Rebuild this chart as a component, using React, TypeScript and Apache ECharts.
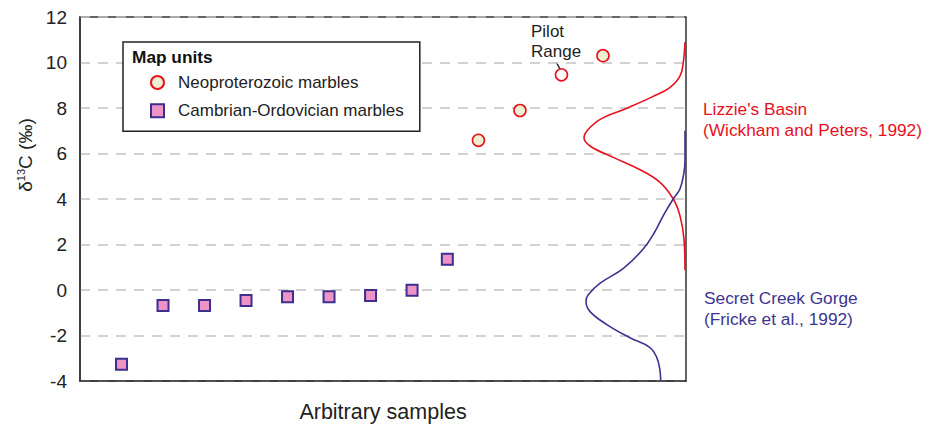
import React, { useEffect, useRef } from "react";
import * as echarts from "echarts";

// Sample positions (arbitrary) and δ13C values
const cambrianX = [1, 2, 3, 4, 5, 6, 7, 8, 8.85];
const cambrianY = [-3.26, -0.68, -0.68, -0.46, -0.3, -0.3, -0.24, -0.01, 1.35];
const neoX = [9.6, 10.6, 11.6, 12.6];
const neoY = [6.58, 7.89, 9.46, 10.3];
const pilotRangeIndex = 2;

// Distribution curves: δ13C value and relative density
const lizzieValues = [10.9, 10.0, 9.4, 8.9, 8.5, 8.0, 7.5, 7.0, 6.7, 6.33, 5.83, 5.3, 4.74, 4.0, 3.27, 2.25, 0.87];
const lizzieDensity = [0.01, 0.027, 0.06, 0.16, 0.33, 0.58, 0.85, 0.98, 1.01, 0.95, 0.72, 0.46, 0.26, 0.126, 0.06, 0.02, 0.01];
const secretValues = [7.0, 5.75, 5.17, 4.44, 4.0, 3.27, 2.55, 1.82, 0.95, 0.3, -0.22, -0.51, -0.95, -1.53, -2.11, -2.52, -2.96, -3.47, -4.0];
const secretDensity = [0.01, 0.01, 0.02, 0.06, 0.127, 0.225, 0.31, 0.42, 0.62, 0.85, 0.97, 0.99, 0.95, 0.78, 0.55, 0.36, 0.29, 0.26, 0.25];

const FONT = 'Arial, "Liberation Sans", Helvetica, sans-serif';
const RED = "#e8111d";
const BLUE = "#3c3590";

export default function App() {
  const ref = useRef<HTMLDivElement>(null);

  useEffect(() => {
    if (!ref.current) return;
    const chart = echarts.init(ref.current, undefined, { renderer: "svg" });

    const neoData = neoX.map((x, i) =>
      i === pilotRangeIndex
        ? { value: [x, neoY[i]], itemStyle: { color: "#ffffff" } }
        : { value: [x, neoY[i]] }
    );
    const camData = cambrianX.map((x, i) => [x, cambrianY[i]]);
    const lizzieData = lizzieValues.map((v, i) => [lizzieDensity[i], v]);
    const secretData = secretValues.map((v, i) => [secretDensity[i], v]);

    chart.setOption({
      animation: false,
      textStyle: { fontFamily: FONT },
      grid: {
        left: 80,
        top: 17,
        width: 606,
        height: 366,
        show: true,
        borderColor: "#333",
        borderWidth: 1.5,
        backgroundColor: "transparent",
      },
      title: {
        text: "Map units",
        left: 132,
        top: 48,
        padding: 0,
        textStyle: { fontFamily: FONT, fontSize: 17.3, fontWeight: "bold", color: "#111" },
      },
      legend: {
        orient: "vertical",
        left: 123,
        top: 42,
        padding: [32, 16, 12, 27],
        itemGap: 11.3,
        itemWidth: 13,
        itemHeight: 13,
        backgroundColor: "#fff",
        borderColor: "#222",
        borderWidth: 1.5,
        textStyle: { fontFamily: FONT, fontSize: 17, color: "#222", padding: [0, 0, 0, 9] },
        data: ["Neoproterozoic marbles", "Cambrian-Ordovician marbles"],
      },
      xAxis: [
        {
          type: "value",
          min: 0,
          max: 14.6,
          name: "Arbitrary samples",
          nameLocation: "middle",
          nameGap: 20,
          nameTextStyle: { fontFamily: FONT, fontSize: 21.5, color: "#222" },
          axisLine: { show: true, onZero: false, lineStyle: { color: "#333", width: 1.5 } },
          axisTick: { show: false },
          axisLabel: { show: false },
          splitLine: { show: false },
        },
        {
          type: "value",
          min: 0,
          max: 6,
          inverse: true,
          show: false,
          position: "top",
          axisLine: { onZero: false },
          splitLine: { show: false },
        },
      ],
      yAxis: {
        type: "value",
        min: -4,
        max: 12,
        interval: 2,
        name: "{a|δ}{s|13}{a|C (‰)}",
        nameLocation: "middle",
        nameGap: 44,
        nameTextStyle: {
          fontFamily: FONT,
          fontSize: 19,
          color: "#222",
          padding: [0, 0, 0, 88],
          rich: {
            a: { fontFamily: FONT, fontSize: 19, color: "#222" },
            s: { fontFamily: FONT, fontSize: 11, color: "#222", verticalAlign: "top", padding: [0, 0, 8, 0] },
          },
        },
        axisLine: { show: true, onZero: false, lineStyle: { color: "#333", width: 1.5 } },
        axisTick: { show: false },
        axisLabel: { fontFamily: FONT, fontSize: 19, color: "#222", margin: 13 },
        splitLine: { show: true, lineStyle: { color: "#c4c4c4", width: 1.5, type: [10, 8] } },
      },
      graphic: [
        {
          type: "text",
          left: 531,
          top: 21,
          style: { text: "Pilot\nRange", font: `17px ${FONT}`, fill: "#222", lineHeight: 20 },
        },
        {
          type: "line",
          shape: { x1: 556.5, y1: 62.5, x2: 560.5, y2: 70 },
          style: { stroke: "#222", lineWidth: 1.5 },
        },
        {
          type: "text",
          left: 703,
          top: 98,
          style: { text: "Lizzie's Basin\n(Wickham and Peters, 1992)", font: `17.3px ${FONT}`, fill: RED, lineHeight: 21 },
        },
        {
          type: "text",
          left: 704,
          top: 287,
          style: { text: "Secret Creek Gorge\n(Fricke et al., 1992)", font: `17.3px ${FONT}`, fill: BLUE, lineHeight: 21 },
        },
      ],
      series: [
        {
          name: "Lizzie's Basin",
          type: "line",
          xAxisIndex: 1,
          data: lizzieData,
          smooth: 0.4,
          symbol: "none",
          lineStyle: { color: RED, width: 1.6 },
          z: 2,
        },
        {
          name: "Secret Creek Gorge",
          type: "line",
          xAxisIndex: 1,
          data: secretData,
          smooth: 0.4,
          symbol: "none",
          lineStyle: { color: BLUE, width: 1.6 },
          z: 2,
        },
        {
          name: "Neoproterozoic marbles",
          type: "scatter",
          data: neoData,
          symbol: "circle",
          symbolSize: 12,
          itemStyle: { color: "#ebf0d2", borderColor: RED, borderWidth: 1.6, opacity: 1 },
          z: 3,
        },
        {
          name: "Cambrian-Ordovician marbles",
          type: "scatter",
          data: camData,
          symbol: "rect",
          symbolSize: 11,
          itemStyle: { color: "#ee93c6", borderColor: "#3d2f8e", borderWidth: 2, opacity: 1 },
          z: 3,
        },
      ],
    });

    return () => chart.dispose();
  }, []);

  return (
    <div
      ref={ref}
      style={{ position: "absolute", left: 0, top: 0, width: 933, height: 428 }}
    />
  );
}
